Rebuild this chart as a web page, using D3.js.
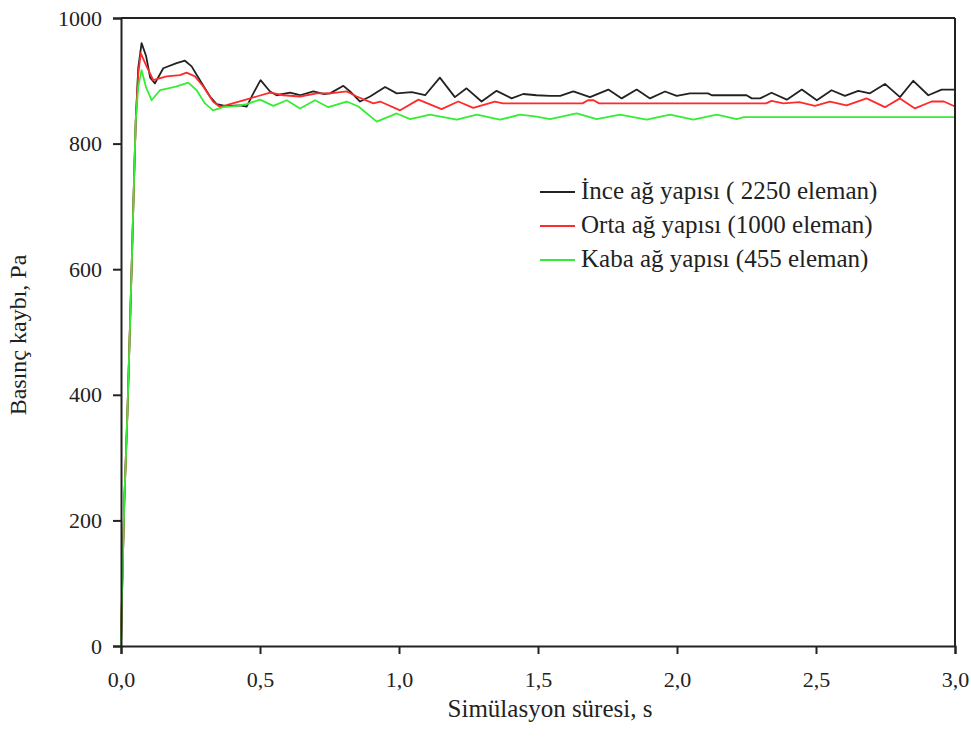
<!DOCTYPE html>
<html>
<head>
<meta charset="utf-8">
<script src="https://cdn.jsdelivr.net/npm/d3@7"></script>
<style>
  body { margin: 0; background: #fff; }
  text { font-family: "Liberation Serif", "Times New Roman", serif; fill: #222; }
</style>
</head>
<body>
<div id="chart"></div>
<script>
// series: [time (s), pressure loss (Pa)]
const inceData = [[0,0],[0.004,90],[0.012,232],[0.023,370],[0.032,505],[0.040,630],[0.047,744],[0.053,836],
  [0.062,920],[0.074,960],[0.09,940],[0.105,905],[0.122,896],[0.152,920],[0.2,928],[0.23,932],[0.254,923],
  [0.284,901],[0.32,875],[0.344,863],[0.374,860],[0.428,861],[0.452,859],[0.476,880],[0.502,901],[0.536,883],
  [0.56,877],[0.608,881],[0.644,877],[0.692,883],[0.728,879],[0.752,880],[0.8,892],[0.824,883],[0.86,867],
  [0.896,875],[0.95,890],[0.992,880],[1.046,882],[1.094,877],[1.147,905],[1.201,874],[1.243,888],[1.297,867],
  [1.351,884],[1.405,872],[1.447,879],[1.495,877],[1.543,876],[1.58,876],[1.627,883],[1.687,874],[1.753,886],
  [1.801,872],[1.855,886],[1.903,872],[1.957,883],[1.999,876],[2.047,880],[2.112,880],[2.125,877],[2.25,877],
  [2.269,872],[2.299,872],[2.34,881],[2.395,870],[2.449,886],[2.503,869],[2.556,885],[2.604,876],[2.652,884],
  [2.694,880],[2.748,895],[2.802,874],[2.85,900],[2.904,877],[2.952,886],[3.0,886]];

const ortaData = [[0,0],[0.004,90],[0.012,232],[0.023,370],[0.032,505],[0.040,630],[0.047,744],[0.053,836],
  [0.062,910],[0.071,944],[0.09,925],[0.116,901],[0.164,907],[0.212,909],[0.236,913],[0.266,907],[0.296,891],
  [0.331,867],[0.356,858],[0.392,863],[0.44,869],[0.488,875],[0.536,881],[0.584,877],[0.644,875],[0.704,880],
  [0.752,880],[0.812,883],[0.848,875],[0.908,864],[0.932,867],[1.004,853],[1.07,870],[1.153,855],[1.213,867],
  [1.267,857],[1.345,867],[1.374,864],[1.66,864],[1.68,869],[1.70,869],[1.72,864],[2.32,864],[2.34,868],
  [2.383,864],[2.44,866],[2.496,860],[2.55,867],[2.61,861],[2.682,872],[2.748,858],[2.802,872],[2.856,856],
  [2.916,867],[2.96,867],[3.0,859]];

const kabaData = [[0,0],[0.004,90],[0.012,232],[0.023,370],[0.032,505],[0.040,630],[0.047,744],[0.053,836],
  [0.062,890],[0.074,917],[0.09,890],[0.11,869],[0.14,885],[0.17,888],[0.2,891],[0.242,897],[0.272,885],
  [0.302,864],[0.331,853],[0.368,858],[0.416,860],[0.452,863],[0.5,870],[0.548,860],[0.596,869],[0.644,856],
  [0.698,869],[0.746,858],[0.812,867],[0.854,859],[0.92,835],[0.992,848],[1.04,839],[1.112,846],[1.208,838],
  [1.28,846],[1.363,838],[1.435,846],[1.495,843],[1.543,839],[1.639,848],[1.711,839],[1.795,846],[1.891,838],
  [1.975,846],[2.059,838],[2.143,846],[2.215,839],[2.24,842],[3.0,842]];

const seriesNames = ["İnce ağ yapısı ( 2250 eleman)", "Orta ağ yapısı (1000 eleman)", "Kaba ağ yapısı (455 eleman)"];
const seriesColors = ["#222222", "#ff2a2a", "#33ee33"];
const xTicks = [0, 0.5, 1, 1.5, 2, 2.5, 3];
const yTicks = [0, 200, 400, 600, 800, 1000];

const margin = {top: 18, right: 16, bottom: 101, left: 121},
    width = 971 - margin.left - margin.right,
    height = 747 - margin.top - margin.bottom;

const svg = d3.select("#chart")
  .append("svg")
    .attr("width", 971)
    .attr("height", 747)
  .append("g")
    .attr("transform", `translate(${margin.left},${margin.top})`);

const x = d3.scaleLinear().domain([0, 3]).range([0, width]);
const y = d3.scaleLinear().domain([0, 1000]).range([height, 0]);

// lines
const line = d3.line().x(d => x(d[0])).y(d => y(d[1]));
[inceData, ortaData, kabaData].forEach((data, i) => {
  svg.append("path")
    .datum(data)
    .attr("fill", "none")
    .attr("stroke", seriesColors[i])
    .attr("stroke-width", 1.8)
    .attr("stroke-linejoin", "round")
    .attr("d", line);
});

// frame top + right
svg.append("line").attr("x1", 0).attr("x2", width).attr("y1", 0).attr("y2", 0)
  .attr("stroke", "#222").attr("stroke-width", 2);
svg.append("line").attr("x1", width).attr("x2", width).attr("y1", 0).attr("y2", height)
  .attr("stroke", "#222").attr("stroke-width", 2);

// X axis
const xAxis = svg.append("g")
  .attr("transform", `translate(0, ${height})`)
  .call(d3.axisBottom(x).tickValues(xTicks).tickSize(8).tickPadding(17)
    .tickFormat(d => d3.format(".1f")(d).replace(".", ",")));

// Y axis
const yAxis = svg.append("g")
  .call(d3.axisLeft(y).tickValues(yTicks).tickSize(8).tickPadding(11)
    .tickFormat(d3.format("d")));

[xAxis, yAxis].forEach(a => {
  a.select(".domain").attr("stroke", "#222").attr("stroke-width", 2);
  a.selectAll(".tick line").attr("stroke", "#222").attr("stroke-width", 2);
  a.selectAll(".tick text")
    .style("font-family", "'Liberation Serif', serif")
    .style("font-size", "22px")
    .attr("fill", "#333");
});

// axis titles
svg.append("text")
  .attr("x", x(1.5) + 12)
  .attr("y", height + 71)
  .attr("text-anchor", "middle")
  .style("font-size", "25px")
  .text("Simülasyon süresi, s");

svg.append("text")
  .attr("transform", `translate(${-margin.left + 26}, ${y(500) + 3}) rotate(-90)`)
  .attr("text-anchor", "middle")
  .style("font-size", "24px")
  .text("Basınç kaybı, Pa");

// legend
const legend = svg.append("g").attr("transform", `translate(${540 - margin.left}, ${192 - margin.top})`);
seriesNames.forEach((name, i) => {
  const row = legend.append("g").attr("transform", `translate(0, ${i * 34})`);
  row.append("line").attr("x1", 0).attr("x2", 35).attr("y1", 0).attr("y2", 0)
    .attr("stroke", seriesColors[i]).attr("stroke-width", 1.8);
  row.append("text").attr("x", 41).attr("y", 7)
    .style("font-size", "25px")
    .text(name);
});
</script>
</body>
</html>
